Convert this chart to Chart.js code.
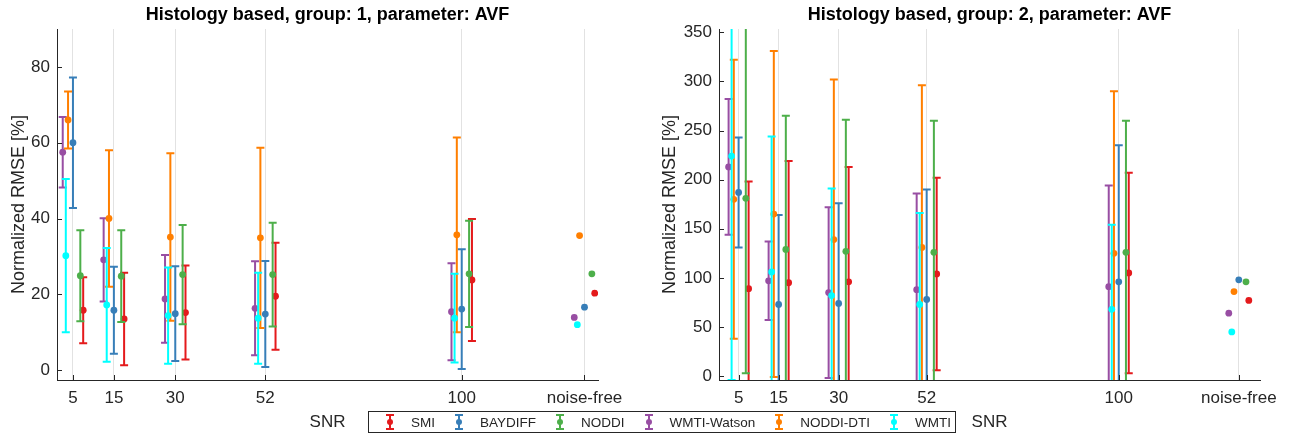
<!DOCTYPE html>
<html>
<head>
<meta charset="utf-8">
<script src="https://cdn.jsdelivr.net/npm/chart.js@4/dist/chart.umd.min.js"></script>
<style>
  body { margin: 0; background: #fff; width: 1297px; height: 435px; position: relative; overflow: hidden;
         font-family: "Liberation Sans", Arial, Helvetica, sans-serif; color: #262626; }
  #left { position: absolute; left: 0; top: 0; }
  #right { position: absolute; left: 640px; top: 0; }
  #legend { position: absolute; left: 368px; top: 411px; width: 588px; height: 22px; box-sizing: border-box;
            border: 1px solid #262626; display: flex; align-items: center; padding-left: 14px;
            font-size: 13.5px; white-space: nowrap; }
  #legend .item { display: flex; align-items: center; margin-right: 17px; }
  #legend svg { margin-right: 14px; }
</style>
</head>
<body>
<canvas id="left" width="640" height="435"></canvas>
<canvas id="right" width="657" height="435"></canvas>
<div id="legend"></div>
<script>
// SNR levels; "noise-free" is parked at 130 on the axis
const snrLevels = [5, 15, 30, 52, 100, 130];
const snrLabels = ["5", "15", "30", "52", "100", "noise-free"];

const methods = ["SMI", "BAYDIFF", "NODDI", "WMTI-Watson", "NODDI-DTI", "WMTI"];
const colors = ["#e41a1c", "#377eb8", "#4daf4a", "#984ea3", "#ff7f00", "#00ffff"];
// small horizontal shift per method so the bars don't overlap
const shifts = [2.5, 0, 1.8, -2.5, -1.2, -1.75];

// group 1: mean RMSE and std per SNR (null = no error bar)
const smiG1 = [15.8, 13.5, 15.2, 19.5, 23.8, 20.3];
const smiG1Sd = [8.7, 12.2, 12.4, 14.1, 16.1, null];
const baydiffG1 = [60.0, 15.8, 14.9, 14.8, 16.1, 16.6];
const baydiffG1Sd = [17.2, 11.5, 12.5, 14.0, 15.8, null];
const nodiG1 = [24.9, 24.8, 25.2, 25.2, 25.4, 25.4];
const nodiG1Sd = [12.0, 12.1, 13.1, 13.7, 14.0, null];
const watsonG1 = [57.5, 29.1, 18.8, 16.3, 15.4, 13.9];
const watsonG1Sd = [9.3, 11.0, 11.6, 12.4, 12.8, null];
const dtiG1 = [66.0, 40.0, 35.1, 34.9, 35.7, 35.5];
const dtiG1Sd = [7.5, 18.0, 22.1, 23.8, 25.7, null];
const wmtiG1 = [30.2, 17.2, 14.4, 13.7, 13.7, 12.0];
const wmtiG1Sd = [20.2, 15.0, 12.7, 12.0, 11.7, null];

// group 2
const smiG2 = [89, 95, 96, 104, 105, 77];
const smiG2Sd = [109, 124, 117, 98, 102, null];
const baydiffG2 = [187, 73, 74, 78, 96, 98];
const baydiffG2Sd = [56, 91, 102, 112, 139, null];
const nodiG2 = [181, 129, 127, 126, 126, 96];
const nodiG2Sd = [178, 136, 134, 134, 134, null];
const watsonG2 = [213, 97, 85, 88, 91, 64];
const watsonG2Sd = [69, 40, 87, 98, 103, null];
const dtiG2 = [180, 165, 139, 131, 125, 86];
const dtiG2Sd = [142, 166, 163, 165, 165, null];
const wmtiG2 = [224, 106, 82, 73, 68, 45];
const wmtiG2Sd = [228, 138, 109, 93, 86, null];

const yTicksG1 = [0, 20, 40, 60, 80];
const yTicksG2 = [0, 50, 100, 150, 200, 250, 300, 350];

const INK = "#262626";
const FONT = "'Liberation Sans', Arial, Helvetica, sans-serif";

// mean +/- std bars, drawn just before each dataset's dots
const errorBars = {
  id: "errorBars",
  beforeDatasetDraw(chart, args) {
    const ds = chart.data.datasets[args.index];
    if (!ds.sd) return;
    const { ctx, chartArea: a, scales: { x, y } } = chart;
    ctx.save();
    ctx.beginPath();
    ctx.rect(a.left, a.top, a.right - a.left, a.bottom - a.top);
    ctx.clip();
    ctx.strokeStyle = ds.backgroundColor;
    ctx.lineWidth = 2;
    ds.data.forEach((p, i) => {
      const s = ds.sd[i];
      if (s == null) return;
      const px = x.getPixelForValue(p.x);
      const top = y.getPixelForValue(p.y + s);
      const bot = y.getPixelForValue(p.y - s);
      ctx.beginPath();
      ctx.moveTo(px, top); ctx.lineTo(px, bot);
      ctx.moveTo(px - 4, top); ctx.lineTo(px + 4, top);
      ctx.moveTo(px - 4, bot); ctx.lineTo(px + 4, bot);
      ctx.stroke();
    });
    ctx.restore();
  }
};

// tick marks pointing into the plot area
const innerTicks = {
  id: "innerTicks",
  afterDraw(chart) {
    const { ctx, chartArea: a, scales: { x, y } } = chart;
    ctx.save();
    ctx.strokeStyle = INK;
    ctx.lineWidth = 1;
    ctx.beginPath();
    y.ticks.forEach(t => {
      const py = Math.round(y.getPixelForValue(t.value)) + 0.5;
      ctx.moveTo(a.left, py); ctx.lineTo(a.left + 5, py);
    });
    x.ticks.forEach(t => {
      const px = Math.round(x.getPixelForValue(t.value)) + 0.5;
      ctx.moveTo(px, a.bottom); ctx.lineTo(px, a.bottom - 5);
    });
    ctx.stroke();
    ctx.restore();
  }
};

function buildDatasets(means, sds) {
  return methods.map((m, k) => ({
    label: m,
    data: snrLevels.map((s, i) => ({ x: s + shifts[k], y: means[k][i] })),
    sd: sds[k],
    backgroundColor: colors[k],
    borderColor: colors[k],
    pointRadius: 3.4,
    pointBorderWidth: 0,
    pointHoverRadius: 3.4,
    showLine: false,
    order: methods.length - k
  }));
}

function makePanel(id, group, means, sds, yTicks, cfg) {
  return new Chart(document.getElementById(id), {
    type: "scatter",
    data: { datasets: buildDatasets(means, sds) },
    options: {
      responsive: false,
      animation: false,
      devicePixelRatio: 1,
      layout: { padding: { left: 0, right: cfg.padRight, top: 0, bottom: 0 } },
      plugins: {
        legend: { display: false },
        tooltip: { enabled: false },
        title: {
          display: true,
          fullSize: false,
          text: "Histology based, group: " + group + ", parameter: AVF",
          color: "#000",
          font: { family: FONT, size: 18, weight: "bold" },
          padding: { top: 4, bottom: 3.4 }
        }
      },
      scales: {
        x: {
          type: "linear",
          min: cfg.xMin,
          max: cfg.xMax,
          afterFit: s => { s.height = 55; },
          afterBuildTicks: s => { s.ticks = snrLevels.map(v => ({ value: v })); },
          ticks: {
            color: INK,
            font: { family: FONT, size: 17 },
            padding: 8,
            maxRotation: 0,
            callback: v => snrLabels[snrLevels.indexOf(v)]
          },
          grid: { color: "#e2e2e2", lineWidth: 1, drawTicks: false },
          border: { color: INK, width: 1 },
          title: { display: true, text: "SNR", color: INK, font: { family: FONT, size: 17 }, padding: { top: 0, bottom: 2 } }
        },
        y: {
          min: cfg.yMin,
          max: cfg.yMax,
          afterFit: s => { s.width = cfg.yWidth; },
          afterBuildTicks: s => { s.ticks = yTicks.map(v => ({ value: v })); },
          ticks: { color: INK, font: { family: FONT, size: 17 }, padding: 7 },
          grid: { display: false, drawTicks: false },
          border: { color: INK, width: 1 },
          title: {
            display: true, text: "Normalized RMSE [%]", color: INK,
            font: { family: FONT, size: 18 }, padding: { top: cfg.titlePad, bottom: 0 }
          }
        }
      }
    },
    plugins: [errorBars, innerTicks]
  });
}

makePanel("left", 1,
  [smiG1, baydiffG1, nodiG1, watsonG1, dtiG1, wmtiG1],
  [smiG1Sd, baydiffG1Sd, nodiG1Sd, watsonG1Sd, dtiG1Sd, wmtiG1Sd],
  yTicksG1,
  { padRight: 42, yWidth: 57, titlePad: 8, xMin: 1.1, xMax: 133.3, yMin: -2.6, yMax: 90 });

makePanel("right", 2,
  [smiG2, baydiffG2, nodiG2, watsonG2, dtiG2, wmtiG2],
  [smiG2Sd, baydiffG2Sd, nodiG2Sd, watsonG2Sd, dtiG2Sd, wmtiG2Sd],
  yTicksG2,
  { padRight: 37, yWidth: 79, titlePad: 19.5, xMin: 0.1, xMax: 135.3, yMin: -4, yMax: 353.4 });

// shared legend along the bottom
const legend = document.getElementById("legend");
methods.forEach((m, k) => {
  const item = document.createElement("div");
  item.className = "item";
  item.innerHTML =
    `<svg width="14" height="16" viewBox="0 0 14 16">
       <g stroke="${colors[k]}" stroke-width="2" fill="none">
         <line x1="7" y1="1" x2="7" y2="15"/><line x1="3" y1="1" x2="11" y2="1"/><line x1="3" y1="15" x2="11" y2="15"/>
       </g>
       <circle cx="7" cy="8" r="3" fill="${colors[k]}"/>
     </svg><span>${m}</span>`;
  legend.appendChild(item);
});
</script>
</body>
</html>
